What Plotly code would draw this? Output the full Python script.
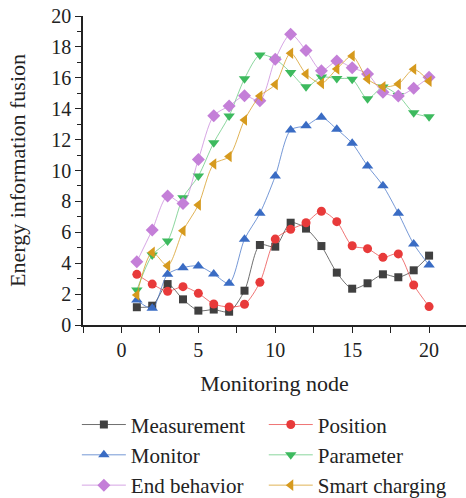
import plotly.graph_objects as go

nodes = list(range(1, 21))
measurement = [1.15, 1.25, 2.65, 1.66, 0.93, 1.0, 0.86, 2.22, 5.18, 5.07,
               6.62, 6.24, 5.11, 3.39, 2.35, 2.7, 3.28, 3.09, 3.54, 4.49]
position = [3.28, 2.65, 2.18, 2.48, 2.05, 1.36, 1.17, 1.34, 2.76, 5.56,
            6.19, 6.62, 7.36, 6.69, 5.13, 4.94, 4.38, 4.6, 2.59, 1.19]
monitor = [1.62, 1.08, 3.28, 3.71, 3.82, 3.3, 2.7, 5.55, 7.23, 9.64,
           12.62, 12.9, 13.44, 12.67, 11.76, 10.29, 9.02, 7.23, 5.24, 3.88]
parameter = [2.27, 4.53, 5.44, 8.24, 9.64, 11.8, 13.53, 15.94, 17.48, 17.2,
             16.35, 15.42, 16.05, 15.95, 15.9, 14.64, 15.4, 14.85, 13.74, 13.48]
end_behavior = [4.1, 6.15, 8.35, 7.87, 10.72, 13.55, 14.17, 14.84, 14.52, 17.2,
                18.82, 17.76, 16.46, 17.08, 16.65, 16.25, 15.06, 14.82, 15.32, 16.03]
smart_charging = [1.94, 4.7, 3.84, 6.1, 7.77, 10.42, 10.9, 13.27, 14.82, 15.57,
                  17.59, 16.25, 15.64, 16.57, 17.41, 15.92, 15.42, 15.6, 16.55, 15.77]

# (name, values, marker colour, line colour, symbol, size, legend column)
series = [
    ("Measurement", measurement, "#404040", "rgba(64,64,64,0.75)", "square", 8, "legend"),
    ("Position", position, "#e83a3a", "rgba(232,58,58,0.7)", "circle", 9, "legend2"),
    ("Monitor", monitor, "#3a6cc4", "rgba(58,108,196,0.7)", "triangle-up", 10, "legend"),
    ("Parameter", parameter, "#3dba5e", "rgba(61,186,94,0.6)", "triangle-down", 10, "legend2"),
    ("End behavior", end_behavior, "#c47fd8", "rgba(196,127,216,0.7)", "diamond", 10, "legend"),
    ("Smart charging", smart_charging, "#d69a1e", "rgba(214,154,30,0.75)", "triangle-left", 10, "legend2"),
]

FONT = "Liberation Serif, Times New Roman, serif"
fig = go.Figure()
for name, vals, mc, lc, sym, sz, lg in series:
    fig.add_trace(go.Scatter(
        x=nodes, y=vals, name=name, mode="lines+markers", legend=lg,
        line=dict(color=lc, width=1, shape="spline", smoothing=0.8),
        marker=dict(color=mc, symbol=sym, size=sz, line=dict(width=0)),
    ))

legend_common = dict(
    orientation="v", xanchor="left",
    yref="container", y=0.188, yanchor="top",
    font=dict(family=FONT, size=21, color="#222"),
    tracegroupgap=0, bgcolor="rgba(0,0,0,0)", itemwidth=44,
)

fig.update_layout(
    width=466, height=498,
    margin=dict(l=83, r=0, t=16, b=173, autoexpand=False),
    plot_bgcolor="white", paper_bgcolor="white",
    font=dict(family=FONT, size=20, color="#222"),
    showlegend=True,
    legend=dict(x=-0.016, **legend_common),
    legend2=dict(x=0.472, **legend_common),
)
fig.update_xaxes(
    range=[-2.5, 22.4], tickvals=[0, 5, 10, 15, 20],
    showgrid=False, zeroline=False, showline=True, linecolor="#222", linewidth=1.5,
    ticks="outside", ticklen=6, tickwidth=1.2, tickcolor="#222",
    minor=dict(tickvals=[-2.5, 2.5, 7.5, 12.5, 17.5], ticks="outside", ticklen=6, tickwidth=1.2, tickcolor="#222"),
    title=dict(text="Monitoring node", font=dict(family=FONT, size=22), standoff=16),
    tickfont=dict(family=FONT, size=20),
)
fig.update_yaxes(
    range=[0, 20], tickvals=list(range(0, 21, 2)),
    showgrid=False, zeroline=False, showline=True, linecolor="#222", linewidth=1.5,
    ticks="outside", ticklen=6, tickwidth=1.2, tickcolor="#222",
    minor=dict(dtick=1, ticks="outside", ticklen=4, tickwidth=1.2, tickcolor="#222"),
    title=dict(text="Energy information fusion", font=dict(family=FONT, size=22), standoff=20),
    tickfont=dict(family=FONT, size=20),
)

fig.write_html("out.html")
